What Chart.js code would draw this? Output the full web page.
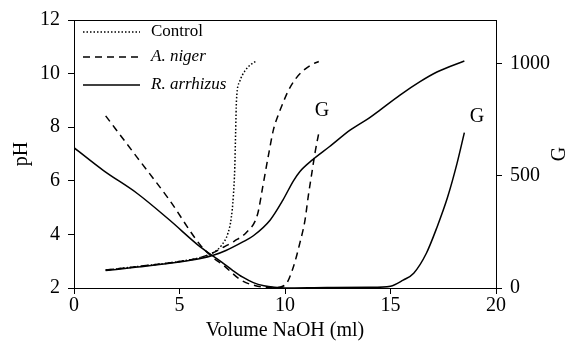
<!DOCTYPE html>
<html>
<head>
<meta charset="utf-8">
<script src="https://cdn.jsdelivr.net/npm/chart.js@4.4.1/dist/chart.umd.min.js"></script>
<style>
  body { margin: 0; background: #fff; }
</style>
</head>
<body>
<canvas id="myChart" width="569" height="348"></canvas>
<script>
// volumen NaOH (ml) y pH / G
const controlVol = [1.5, 3, 5, 6, 6.6, 7.0, 7.3, 7.45, 7.55, 7.62, 7.66, 7.7, 7.85, 8.1, 8.4, 8.6];
const controlPH = [2.67, 2.8, 2.99, 3.14, 3.32, 3.6, 4.05, 4.6, 5.4, 6.5, 7.8, 9.0, 9.7, 10.1, 10.35, 10.45];

const nigerVol = [1.5, 3, 5, 6, 6.6, 7.1, 7.6, 8.2, 8.7, 8.95, 9.25, 9.45, 9.7, 9.85, 10.15, 10.5, 10.85, 11.25, 11.6];
const nigerPH = [2.67, 2.8, 2.99, 3.14, 3.32, 3.53, 3.75, 4.1, 4.75, 5.8, 7.1, 7.9, 8.5, 8.8, 9.35, 9.8, 10.1, 10.33, 10.45];

const rhizVol = [1.5, 3, 5, 6, 6.6, 7.2, 8, 8.5, 9.3, 9.9, 10.4, 10.7, 11.3, 12.1, 13.1, 14, 14.5, 15.45, 16.4, 17.2, 18.5];
const rhizPH = [2.65, 2.78, 2.97, 3.1, 3.22, 3.4, 3.72, 3.95, 4.54, 5.28, 6.0, 6.34, 6.78, 7.27, 7.9, 8.35, 8.64, 9.2, 9.7, 10.06, 10.47];

const nigerGVol = [1.5, 3, 4.5, 6, 6.6, 7.1, 7.9, 8.7, 9.5, 10.0, 10.4, 10.7, 10.95, 11.1, 11.27, 11.42, 11.63];
const nigerG = [767, 581, 395, 190, 135, 100, 36, 8, 2, 13, 95, 199, 303, 407, 511, 601, 704];

const rhizGVol = [0, 1.4, 3, 4.5, 6, 7, 7.5, 8, 8.5, 9, 9.5, 10, 12, 14, 15, 15.6, 16.1, 16.7, 17.2, 17.7, 18.15, 18.5];
const rhizG = [625, 523, 421, 305, 182, 115, 80, 48, 24, 10, 3, 0, 2, 3, 8, 35, 66, 155, 270, 403, 554, 692];

const xTicks = [0, 5, 10, 15, 20];
const gTicks = [0, 500, 1000];

const FONT = "'Liberation Serif', 'Times New Roman', serif";

const puntos = (xs, ys) => xs.map((x, i) => ({ x: x, y: ys[i] }));

const linea = (data, eje, dash, ancho) => ({
  data: data,
  yAxisID: eje,
  borderColor: "#000",
  borderWidth: ancho,
  borderDash: dash,
  pointRadius: 0,
  fill: false,
  cubicInterpolationMode: "monotone",
});

// leyenda, marco y etiquetas "G"
const extras = {
  id: "extras",
  afterDraw(chart) {
    const { ctx, chartArea: a, scales } = chart;
    ctx.save();
    ctx.strokeStyle = "#000";
    ctx.lineWidth = 1;
    ctx.setLineDash([]);
    ctx.strokeRect(a.left + 0.5, a.top + 0.5, a.right - a.left, a.bottom - a.top);

    const items = [
      { text: "Control", dash: [1.5, 2], italic: false, y: 32 },
      { text: "A. niger", dash: [7, 5], italic: true, y: 57 },
      { text: "R. arrhizus", dash: [], italic: true, y: 85 },
    ];
    items.forEach((it) => {
      ctx.beginPath();
      ctx.setLineDash(it.dash);
      ctx.lineWidth = 1.5;
      ctx.moveTo(83, it.y);
      ctx.lineTo(140, it.y);
      ctx.stroke();
      ctx.setLineDash([]);
      ctx.fillStyle = "#000";
      ctx.font = (it.italic ? "italic " : "") + "17px " + FONT;
      ctx.textBaseline = "middle";
      ctx.textAlign = "left";
      ctx.fillText(it.text, 151, it.y);
    });

    ctx.font = "20px " + FONT;
    ctx.textAlign = "center";
    ctx.textBaseline = "middle";
    const x = scales.x, g = scales.g;
    ctx.fillText("G", x.getPixelForValue(11.75), g.getPixelForValue(788));
    ctx.fillText("G", x.getPixelForValue(19.1), g.getPixelForValue(762));

    ctx.translate(560, 154);
    ctx.rotate(-Math.PI / 2);
    ctx.fillText("G", 0, 0);
    ctx.restore();
  },
};

const ejeFont = { family: FONT, size: 20 };
const gridEje = { display: true, drawOnChartArea: false, tickLength: 6, color: "#000" };

new Chart(document.getElementById("myChart"), {
  type: "line",
  data: {
    datasets: [
      linea(puntos(controlVol, controlPH), "y", [1.5, 2], 1.5),
      linea(puntos(nigerVol, nigerPH), "y", [7, 5], 1.5),
      linea(puntos(rhizVol, rhizPH), "y", [], 1.5),
      linea(puntos(nigerGVol, nigerG), "g", [7, 5], 1.5),
      linea(puntos(rhizGVol, rhizG), "g", [], 1.5),
    ],
  },
  options: {
    responsive: false,
    animation: false,
    layout: { padding: { top: 20, left: 0, right: 0, bottom: 0 } },
    plugins: { legend: { display: false }, tooltip: { enabled: false } },
    scales: {
      x: {
        type: "linear",
        min: 0,
        max: 20,
        afterBuildTicks: (s) => { s.ticks = xTicks.map((v) => ({ value: v })); },
        afterFit: (s) => { s.height = 60; },
        grid: gridEje,
        border: { color: "#000" },
        ticks: { color: "#000", font: ejeFont, padding: 0 },
        title: { display: true, text: "Volume NaOH (ml)", color: "#000", font: ejeFont, padding: { top: 0, bottom: 5 } },
      },
      y: {
        position: "left",
        min: 2,
        max: 12,
        ticks: { stepSize: 2, color: "#000", font: ejeFont, padding: 8 },
        afterFit: (s) => { s.width = 74; },
        grid: gridEje,
        border: { color: "#000" },
        title: { display: true, text: "pH", color: "#000", font: ejeFont, padding: { top: 10, bottom: 0 } },
      },
      g: {
        position: "right",
        min: 0,
        max: 1194,
        afterBuildTicks: (s) => { s.ticks = gTicks.map((v) => ({ value: v })); },
        afterFit: (s) => { s.width = 73; },
        grid: gridEje,
        border: { color: "#000" },
        ticks: { color: "#000", font: ejeFont, padding: 8, callback: (v) => String(v) },
      },
    },
  },
  plugins: [extras],
});
</script>
</body>
</html>
